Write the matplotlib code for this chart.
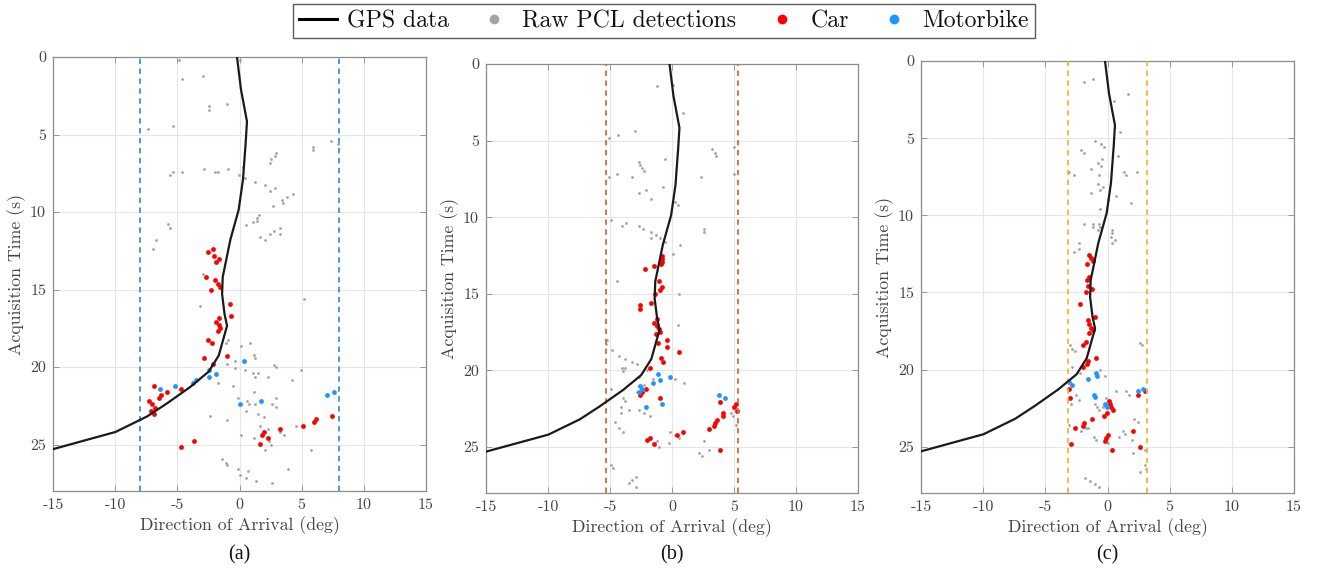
import os
import numpy as np
import matplotlib
matplotlib.use("Agg")
import matplotlib.pyplot as plt
import matplotlib.font_manager as fm
from matplotlib.lines import Line2D

_cm = os.path.join(matplotlib.get_data_path(), 'fonts', 'ttf', 'cmr10.ttf')
if os.path.exists(_cm):
    fm.fontManager.addfont(_cm)
plt.rcParams['axes.unicode_minus'] = False
plt.rcParams['axes.formatter.use_mathtext'] = False
plt.rcParams['font.family'] = ['cmr10', 'DejaVu Serif']

# ---------------- data ----------------
gps_t = [0, 2.1, 4.16, 5.5, 7.9, 9.87, 11.8, 14.2, 15.3, 16.6, 17.34, 19.26, 20.3, 21.28, 22.34, 23.19, 24.19, 25.3]
gps_doa = [-0.2, 0.12, 0.6, 0.5, 0.28, -0.07, -0.74, -1.35, -1.4, -1.2, -1.0, -1.67, -2.48, -3.95, -5.82, -7.43, -9.97, -15.0]

thresholds = [8.0, 5.3, 3.2]
captions = ['(a)', '(b)', '(c)']

a_gray = [(-4.88,0.22),(-4.62,1.42),(-2.96,1.21),(-0.98,3.02),(-2.42,3.19),(-2.42,3.41),(-7.35,4.63),(-5.31,4.44),(0.0,0.17),
          (5.9,5.82),(5.95,6.03),(7.34,5.43),(7.96,5.6),(2.96,6.2),(2.82,6.38),(2.55,6.6),(2.47,6.85),(-2.88,7.22),(-0.95,7.2),
          (-1.94,7.41),(-1.75,7.41),(-4.59,7.41),(-5.31,7.41),(-5.55,7.61),(0.25,7.07),(-0.04,7.61),(0.47,7.82),(1.27,8.04),
          (2.02,8.23),(2.87,8.43),(2.42,8.64),(4.29,8.84),(3.81,9.05),(3.41,9.22),(3.46,9.44),(2.66,9.61),(1.54,10.19),
          (1.4,10.37),(1.4,10.58),(1.06,10.62),(0.52,10.84),(-5.77,10.78),(-5.63,11.01),(3.22,11.01),(2.79,11.2),(2.42,11.42),
          (3.28,11.42),(1.67,11.64),(2.07,11.83),(-6.7,11.83),(-6.97,12.41),(-2.96,14.03),(-3.15,16.06),(5.2,15.63),
          (-0.95,18.26),(-1.06,18.45),(0.82,18.47),(0.12,18.62),(1.14,19.21),(1.25,19.4),(-0.34,19.64),(-1.0,19.83),
          (-0.34,20.06),(0.41,20.21),(1.06,20.38),(1.51,20.38),(1.27,20.62),(2.26,20.62),(2.79,19.85),(2.92,20.0),
          (4.96,20.21),(4.21,20.81),(-1.75,21.02),(-0.55,21.23),(1.19,21.62),(-0.1,22.02),(0.6,22.19),(2.9,22.02),
          (2.58,22.4),(2.9,22.6),(1.25,22.4),(0.76,22.4),(0.49,22.81),(1.48,23.0),(1.99,23.21),(-2.4,23.19),(-1.0,23.4),
          (2.26,24.0),(1.62,23.79),(4.51,23.79),(3.22,24.17),(3.6,24.4),(0.12,24.4),(1.19,24.6),(2.34,24.79),(2.53,25.0),
          (2.02,25.38),(5.74,25.38),(-1.4,25.96),(-1.11,26.17),(-1.03,26.34),(-0.1,26.55),(0.65,26.74),(0.01,26.96),
          (0.52,27.13),(1.35,27.34),(2.63,27.51),(3.87,26.55)]
a_car = [(-2.13,12.41),(-2.53,12.6),(-2.07,12.84),(-1.62,13.04),(-1.91,13.23),(-2.66,14.22),(-1.94,14.4),(-1.7,14.66),
         (-1.57,14.83),(-2.29,15.0),(-0.79,15.91),(-0.71,16.68),(-1.65,16.87),(-1.86,17.09),(-1.62,17.28),(-1.54,17.49),
         (-1.73,17.7),(-2.53,18.26),(-2.18,18.47),(-1.0,19.26),(-2.82,19.45),(-2.13,19.83),(-6.89,21.23),(-4.7,21.45),
         (-5.82,21.62),(-6.33,21.81),(-6.49,22.02),(-7.24,22.19),(-7.03,22.4),(-6.76,22.62),(-7.13,22.81),(-6.87,23.0),
         (5.07,23.79),(6.0,23.57),(6.17,23.38),(7.45,23.19),(3.28,24.0),(1.94,24.2),(1.78,24.36),(2.26,24.57),
         (1.67,24.98),(-3.65,24.77),(-4.7,25.15)]
a_moto = [(0.33,19.64),(-2.48,20.21),(-1.86,20.43),(-2.48,20.62),(-3.47,20.81),(-3.76,21.02),(-5.21,21.23),(-6.41,21.43),
          (1.75,22.19),(0.07,22.4),(7.02,21.81),(7.64,21.62)]

b_gray = [(-1.21,1.41),(0.05,1.34),(0.86,3.19),(-2.98,4.4),(-4.36,4.62),(-5.11,4.83),(4.97,5.4),(3.22,5.57),(3.44,5.79),
          (3.57,6.0),(-0.54,6.18),(-2.66,6.4),(-2.55,6.61),(-2.42,6.81),(-2.26,7.0),(-4.44,7.2),(-5.11,7.39),(-3.25,7.39),
          (2.36,7.39),(4.97,7.2),(-0.73,8.0),(-2.1,8.22),(-2.69,8.39),(-1.67,8.78),(0.27,9.0),(0.46,9.19),(-4.92,10.19),
          (-3.68,10.38),(-4.0,10.58),(-2.63,10.58),(-2.37,10.8),(2.55,10.77),(2.61,10.99),(-1.7,10.99),(-1.27,11.19),
          (-1.7,11.38),(-0.99,11.38),(-0.59,11.6),(0.67,11.79),(0.08,12.4),(-4.44,14.18),(0.56,15.0),
          (0.46,17.03),(-5.24,18.04),(-5.32,18.25),(-4.84,18.64),(-4.25,19.03),(-3.82,19.25),(-3.23,19.44),(-2.82,19.61),
          (-2.02,20.0),(-4.03,19.83),(-3.76,19.83),(-3.98,20.04),(-2.66,20.43),(-1.53,20.58),(0.27,20.58),(0.94,20.8),
          (-2.23,20.97),(-4.92,21.23),(-2.82,21.4),(-3.98,21.81),(-3.82,22.0),(-4.09,22.39),(-3.44,22.59),(-2.63,22.59),
          (-2.29,22.8),(-4.09,22.8),(-1.75,23.0),(-4.57,23.38),(-4.25,23.77),(-3.98,23.99),(-0.14,23.99),(0.27,24.2),
          (0.59,24.4),(-1.21,24.59),(-1.02,24.98),(-0.27,24.76),(2.55,24.59),(2.96,25.17),(2.15,25.37),(2.42,25.56),
          (4.76,22.8),(4.92,23.0),(5.19,23.56),(-4.92,26.14),(-4.79,26.4),(-2.9,26.94),(-3.23,27.16),(-3.44,27.37),(-2.9,27.59)]
b_car = [(-0.81,12.55),(-0.81,12.72),(-0.81,12.9),(-0.86,13.03),(-1.43,13.2),(-2.15,13.38),(-1.02,14.18),(-0.81,14.57),
         (-0.94,14.78),(-1.35,15.0),(-1.7,15.59),(-2.55,15.76),(-2.55,15.98),(-1.48,16.88),(-1.21,16.66),(-1.21,17.09),
         (-1.05,17.31),(-0.94,17.46),(-1.27,17.65),(-1.16,18.23),(-0.4,18.04),(-0.4,18.45),(0.56,18.81),(-0.86,19.22),
         (-0.75,19.44),(-1.8,19.83),(-2.1,21.19),(-2.42,21.38),(-2.55,21.59),(-0.94,21.81),(-1.48,24.78),(-1.75,24.42),
         (-2.02,24.57),(0.4,24.2),(0.86,23.99),(2.98,23.81),(3.36,23.6),(3.44,23.43),(3.63,23.21),(4.11,22.8),(4.11,23.0),
         (3.9,22.03),(5.03,22.41),(5.19,22.2),(5.24,22.63),(3.84,25.17)]
b_moto = [(-1.16,20.22),(-0.19,20.41),(-0.97,20.63),(-1.53,20.8),(-2.55,20.99),(-2.42,21.19),(-2.63,21.38),(-0.81,22.22),
          (-2.1,22.41),(3.76,21.62),(4.3,21.81)]

c_gray = [(-1.85,1.38),(-1.2,1.19),(1.64,2.16),(0.56,2.59),(1.02,4.58),(-0.99,5.17),(-0.51,5.38),(-0.32,5.58),(-2.14,5.77),
          (-1.9,5.99),(0.81,6.18),(-0.48,6.38),(-0.78,6.59),(-0.54,6.79),(-1.31,6.98),(-3.08,7.2),(-2.7,7.39),(-0.72,7.39),
          (1.34,7.2),(1.48,7.39),(2.36,7.2),(-0.8,7.97),(-0.4,8.17),(-0.64,8.39),(-1.31,8.58),(0.7,8.77),(0.08,8.99),
          (1.9,9.19),(-0.59,9.6),(-1.85,10.57),(-1.18,10.57),(-1.2,10.78),(-0.69,10.57),(-0.59,10.78),(-0.8,10.98),
          (0.4,10.98),(0.35,11.17),(0.3,11.39),(0.62,11.58),(0.35,11.78),(-2.27,11.78),(-2.33,12.21),(-2.73,12.38),
          (2.63,18.28),(2.76,18.43),(-3.05,18.43),(-2.86,18.64),(-2.6,18.81),(-2.89,19.83),(-0.64,20.04),(-2.2,20.19),
          (-0.19,20.41),(-2.54,21.62),(-2.27,21.98),(-2.92,22.2),(-0.99,22.22),(-0.83,22.41),(-0.72,22.59),(-0.4,22.41),
          (-0.16,21.83),(0.67,21.38),(1.48,21.38),(1.74,21.62),(-3.13,23.6),(-1.74,23.79),(-1.58,23.79),(-2.12,23.99),
          (-1.07,24.4),(-0.91,24.59),(0.0,24.78),(0.89,24.4),(1.21,23.99),(1.42,24.18),(2.01,24.57),(2.17,23.21),
          (2.49,23.41),(2.09,25.39),(3.03,25.22),(2.98,26.19),(3.11,26.47),(2.63,26.62),(-1.79,27.0),(-1.39,27.2),
          (-0.99,27.41),(-0.67,27.61)]
c_car = [(-1.5,12.6),(-1.34,12.79),(-1.18,12.99),(-1.63,13.18),(-1.5,13.98),(-1.66,14.2),(-1.55,14.59),(-1.23,14.8),
         (-1.74,15.0),(-2.2,15.78),(-0.99,16.6),(-1.53,16.8),(-1.47,17.07),(-1.34,17.28),(-1.2,17.41),(-1.47,17.63),
         (-1.74,18.23),(-1.98,18.43),(-0.94,19.22),(-1.58,19.44),(-1.66,19.61),(-1.98,19.83),(-3.11,21.23),(-3.0,21.83),
         (2.49,21.62),(3.03,21.42),(0.11,22.03),(0.22,22.22),(0.3,22.41),(0.43,22.63),(-0.05,22.84),(-0.32,23.02),
         (-1.26,23.23),(-1.93,23.45),(-2.01,23.64),(-2.6,23.81),(0.0,24.22),(-0.1,24.42),(-0.24,24.61),(2.09,24.01),
         (2.63,25.0),(0.4,25.22),(-2.94,24.83)]
c_moto = [(-3.08,20.8),(-2.84,21.01),(-1.6,20.62),(-0.94,20.22),(-0.86,20.39),(-1.12,21.62),(-1.04,21.81),(-0.24,22.2),
          (-0.05,22.41),(2.49,21.42),(2.84,21.23)]

x_ticks = [-15, -10, -5, 0, 5, 10, 15]
y_ticks = [0, 5, 10, 15, 20, 25]

# ---------------- styles ----------------
gray_c = '#a3a3a3'
car_c = '#ff0000'
moto_c = '#1e96ff'
dash_colors = ['#3d93d3', '#e0673a', '#f2b634']
axis_c = '#8c8c8c'
text_c = '#444444'

fig = plt.figure(figsize=(13.28, 5.69), dpi=100)
W, H = 1328, 569
boxes_px = [(53, 57, 426, 491), (486, 64, 858, 493), (921, 61, 1294, 493)]

panels = [(a_gray, a_car, a_moto), (b_gray, b_car, b_moto), (c_gray, c_car, c_moto)]

for i, ((l, t, r, b), (g, cr, mo)) in enumerate(zip(boxes_px, panels)):
    ax = fig.add_axes([l / W, 1 - b / H, (r - l) / W, (b - t) / H])
    ax.set_xlim(-15, 15)
    ax.set_ylim(28, 0)
    ax.set_xticks(x_ticks)
    ax.set_yticks(y_ticks)
    ax.set_xticklabels([str(v) for v in x_ticks])
    ax.set_yticklabels([str(v) for v in y_ticks])
    ax.grid(True, color='#e6e6e6', linewidth=0.8)
    ax.set_axisbelow(True)
    for s in ax.spines.values():
        s.set_color(axis_c)
        s.set_linewidth(0.9)
    ax.tick_params(direction='in', length=4, width=0.6, color=axis_c, labelcolor=text_c,
                   labelsize=11.5, top=True, right=True, pad=5)

    g = np.array(g); cr = np.array(cr); mo = np.array(mo)
    ax.scatter(g[:, 0], g[:, 1], s=4, color=gray_c, linewidths=0, zorder=2)
    ax.scatter(cr[:, 0], cr[:, 1], s=12, color=car_c, linewidths=0, zorder=3)
    ax.scatter(mo[:, 0], mo[:, 1], s=12, color=moto_c, linewidths=0, zorder=3)
    ax.plot(gps_doa, gps_t, color='#1a1a1a', linewidth=1.6, zorder=4)
    th = thresholds[i]
    ax.axvline(-th, color=dash_colors[i], linestyle=(0, (3, 2.5)), linewidth=1.3, zorder=3)
    ax.axvline(th, color=dash_colors[i], linestyle=(0, (3, 2.5)), linewidth=1.3, zorder=3)

    ax.set_xlabel('Direction of Arrival (deg)', fontsize=12.8, color=text_c, labelpad=3)
    ax.set_ylabel('Acquisition Time (s)', fontsize=12.8, color=text_c, labelpad=3)
    fig.text((l + r) / 2 / W, 1 - 555 / H, captions[i], ha='center', va='center',
             fontsize=14.5, family='Liberation Serif', color='#111111')

handles = [
    Line2D([0], [0], color='black', linewidth=2.2),
    Line2D([0], [0], marker='o', linestyle='none', color=gray_c, markersize=6),
    Line2D([0], [0], marker='o', linestyle='none', color=car_c, markersize=6),
    Line2D([0], [0], marker='o', linestyle='none', color=moto_c, markersize=6),
]
labels = ['GPS data', 'Raw PCL detections', 'Car', 'Motorbike']
leg = fig.legend(handles, labels, loc='upper center', bbox_to_anchor=(0.5, 0.997), ncol=4,
                 frameon=True, fancybox=False, edgecolor='#333333', fontsize=17.1,
                 handlelength=1.6, handletextpad=0.4, columnspacing=1.1, borderpad=0.25,
                 borderaxespad=0.1)
leg.get_frame().set_linewidth(1.0)
for txt in leg.get_texts():
    txt.set_color('#111111')

fig.savefig('out.png', dpi=100)
